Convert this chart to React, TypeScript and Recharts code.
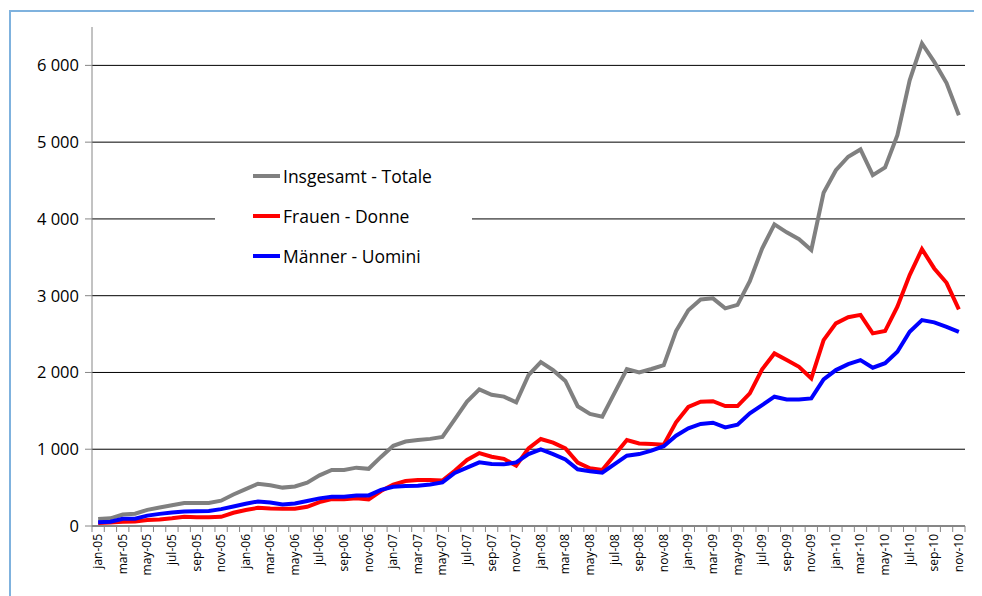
import React from 'react';
import { LineChart, Line, XAxis, YAxis, CartesianGrid, Legend } from 'recharts';

const months = [
  'jan-05','feb-05','mar-05','apr-05','may-05','jun-05','jul-05','aug-05','sep-05','oct-05','nov-05','dec-05',
  'jan-06','feb-06','mar-06','apr-06','may-06','jun-06','jul-06','aug-06','sep-06','oct-06','nov-06','dec-06',
  'jan-07','feb-07','mar-07','apr-07','may-07','jun-07','jul-07','aug-07','sep-07','oct-07','nov-07','dec-07',
  'jan-08','feb-08','mar-08','apr-08','may-08','jun-08','jul-08','aug-08','sep-08','oct-08','nov-08','dec-08',
  'jan-09','feb-09','mar-09','apr-09','may-09','jun-09','jul-09','aug-09','sep-09','oct-09','nov-09','dec-09',
  'jan-10','feb-10','mar-10','apr-10','may-10','jun-10','jul-10','aug-10','sep-10','oct-10','nov-10',
];

const totale = [
  90, 100, 150, 160, 210, 240, 270, 300, 300, 300, 330, 410,
  480, 550, 530, 500, 515, 565, 660, 730, 730, 760, 745, 900,
  1045, 1100, 1120, 1135, 1160, 1390, 1620, 1780, 1710, 1685, 1610, 1965,
  2135, 2030, 1890, 1560, 1460, 1425, 1735, 2045, 2000, 2045, 2095, 2540,
  2810, 2950, 2965, 2835, 2880, 3190, 3615, 3930, 3825, 3735, 3595, 4340,
  4635, 4810, 4905, 4570, 4670, 5090, 5805, 6285, 6045, 5770, 5350,
];

const donne = [
  40, 45, 56, 60, 78, 85, 100, 120, 113, 113, 120, 172,
  208, 237, 228, 224, 226, 250, 312, 350, 350, 360, 347, 455,
  540, 585, 600, 598, 592, 720, 860, 950, 903, 875, 786, 1011,
  1133, 1085, 1011, 825, 751, 729, 924, 1120, 1076, 1068, 1060, 1350,
  1550, 1619, 1625, 1562, 1562, 1727, 2040, 2248, 2161, 2074, 1923, 2422,
  2639, 2720, 2750, 2509, 2539, 2856, 3268, 3607, 3355, 3168, 2821,
];

const uomini = [
  50, 55, 95, 95, 135, 158, 175, 190, 192, 195, 220, 255,
  290, 320, 305, 280, 292, 325, 360, 380, 382, 398, 398, 470,
  510, 522, 525, 540, 568, 690, 760, 829, 809, 803, 829, 937,
  998, 937, 868, 738, 712, 694, 807, 916, 937, 981, 1040, 1176,
  1272, 1330, 1345, 1285, 1319, 1467, 1575, 1684, 1649, 1649, 1662, 1910,
  2031, 2109, 2161, 2062, 2120, 2270, 2530, 2682, 2652, 2595, 2530,
];

const yTicks = [0, 1000, 2000, 3000, 4000, 5000, 6000];
const gridValues = [1000, 2000, 3000, 4000, 5000, 6000];

const seriesNames = ['Insgesamt - Totale', 'Frauen - Donne', 'Männer - Uomini'];
const seriesColors = ['#808080', '#ff0000', '#0000ff'];

const data = months.map((m, i) => ({
  month: m,
  totale: totale[i],
  donne: donne[i],
  uomini: uomini[i],
}));

const FONT = '"Open Sans", "DejaVu Sans", sans-serif';
const CHART_W = 974;
const CHART_H = 588;
const M_LEFT = 84;
const M_RIGHT = 17;
const PLOT_W = CHART_W - M_LEFT - M_RIGHT;
const STEP = PLOT_W / months.length;
const AXIS_GRAY = '#868686';

const formatY = (v: number) => (v === 0 ? '0' : `${v / 1000} 000`);

const XTick = (props: any) => {
  const { x, y, payload } = props;
  const index = props.index ?? payload?.index ?? 0;
  const half = STEP / 2;
  return (
    <g>
      <line x1={x - half} x2={x - half} y1={y} y2={y + 6} stroke={AXIS_GRAY} strokeWidth={1} />
      {index === months.length - 1 && (
        <line x1={x + half} x2={x + half} y1={y} y2={y + 6} stroke={AXIS_GRAY} strokeWidth={1} />
      )}
      {index % 2 === 0 && (
        <text
          x={0}
          y={0}
          transform={`translate(${x + 4},${y + 8}) rotate(-90)`}
          textAnchor="end"
          fontSize={12}
          fontFamily={FONT}
          fill="#000"
        >
          {payload.value}
        </text>
      )}
    </g>
  );
};

const LegendBox = (props: any) => {
  const payload = [...(props.payload || [])].sort(
    (a: any, b: any) => seriesNames.indexOf(a.value) - seriesNames.indexOf(b.value)
  );
  return (
    <div
      style={{
        background: '#fff',
        width: 257,
        height: 130,
        paddingLeft: 38,
        boxSizing: 'border-box',
        fontFamily: FONT,
        fontSize: 17.5,
        color: '#000',
      }}
    >
      {payload.map((p: any) => (
        <div key={p.value} style={{ display: 'flex', alignItems: 'center', height: 40 }}>
          <span style={{ display: 'inline-block', width: 27, height: 4, background: p.color, marginRight: 3 }} />
          <span style={{ lineHeight: '22px' }}>{p.value}</span>
        </div>
      ))}
    </div>
  );
};

export default function App() {
  return (
    <div style={{ position: 'relative', width: CHART_W, height: CHART_H, overflow: 'hidden', background: '#fff' }}>
      <div
        style={{
          position: 'absolute',
          left: 1,
          top: 2,
          width: 1200,
          height: 1200,
          borderLeft: '2px solid #7fb2de',
          borderTop: '2px solid #7fb2de',
        }}
      />
      <div style={{ position: 'absolute', left: 0, top: 0 }}>
        <LineChart
          width={CHART_W}
          height={CHART_H}
          data={data}
          margin={{ top: 19, right: M_RIGHT, bottom: 0, left: 0 }}
        >
          <CartesianGrid
            horizontal
            vertical={false}
            stroke="#000"
            strokeWidth={1}
            horizontalValues={gridValues}
          />
          <XAxis
            dataKey="month"
            interval={0}
            height={70}
            padding={{ left: STEP / 2, right: STEP / 2 }}
            axisLine={{ stroke: AXIS_GRAY, strokeWidth: 2 }}
            tickLine={false}
            tickSize={0}
            tickMargin={0}
            tick={<XTick />}
          />
          <YAxis
            width={M_LEFT}
            domain={[0, 6500]}
            ticks={yTicks}
            tickFormatter={formatY}
            axisLine={{ stroke: AXIS_GRAY, strokeWidth: 1 }}
            tickLine={{ stroke: AXIS_GRAY }}
            tickSize={7}
            tickMargin={6}
            tick={{ fontSize: 16.5, fill: '#000', fontFamily: FONT }}
          />
          <Legend
            layout="vertical"
            align="center"
            verticalAlign="middle"
            wrapperStyle={{ left: 207, top: 148, width: 257, height: 130 }}
            content={<LegendBox />}
          />
          <Line
            type="linear"
            dataKey="totale"
            name={seriesNames[0]}
            stroke={seriesColors[0]}
            strokeWidth={4}
            dot={false}
            isAnimationActive={false}
          />
          <Line
            type="linear"
            dataKey="donne"
            name={seriesNames[1]}
            stroke={seriesColors[1]}
            strokeWidth={4}
            dot={false}
            isAnimationActive={false}
          />
          <Line
            type="linear"
            dataKey="uomini"
            name={seriesNames[2]}
            stroke={seriesColors[2]}
            strokeWidth={4}
            dot={false}
            isAnimationActive={false}
          />
        </LineChart>
      </div>
    </div>
  );
}
